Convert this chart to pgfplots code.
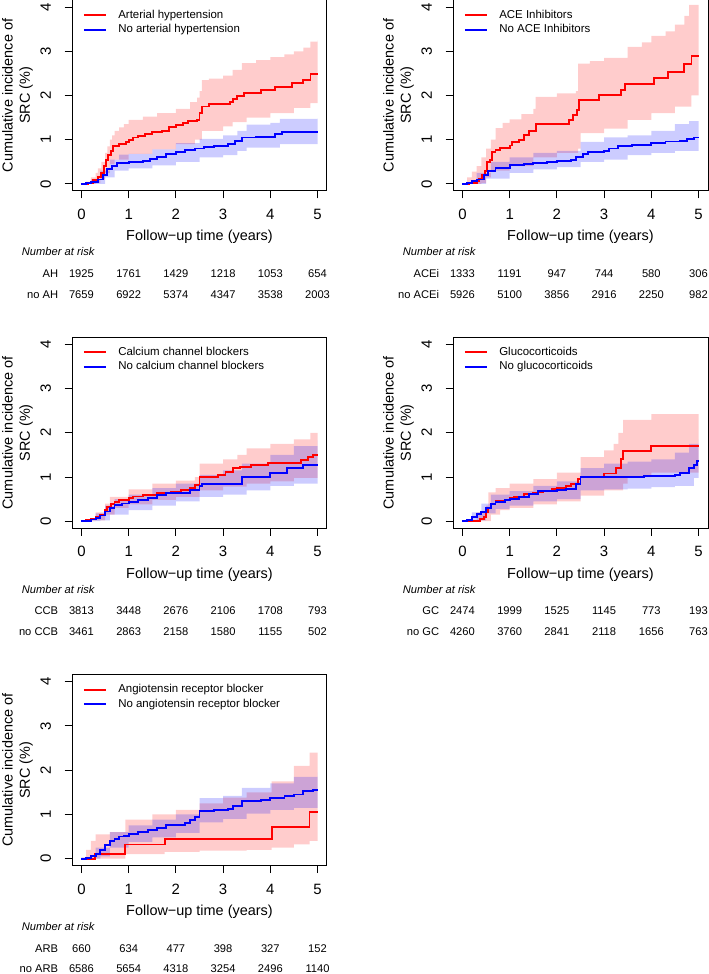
\documentclass[border=0pt]{standalone}
\usepackage{fontspec}
\setmainfont{Liberation Sans}
\usepackage{pgfplots}
\pgfplotsset{compat=1.18}
\usepgfplotslibrary{fillbetween}

\definecolor{kmred}{RGB}{255,0,0}
\definecolor{kmblue}{RGB}{0,0,255}
\newcommand{\rsk}{\fontsize{11.2}{13}\selectfont}

\pgfplotsset{
  km/.style={
    scale only axis, width=255bp, height=191bp,
    xmin=-0.2, xmax=5.2, ymin=-0.16, ymax=4.16,
    xtick={0,1,2,3,4,5}, ytick={0,1,2,3,4},
    tick pos=left, tick align=outside,
    major tick length=7.5bp,
    every tick/.style={draw=black, line width=1bp},
    axis line style={draw=black, line width=1bp},
    /pgf/number format/assume math mode=true,
    ticklabel style={font=\fontsize{15}{18}\selectfont},
    xticklabel shift=7bp, yticklabel shift=10bp,
    yticklabel style={rotate=90, anchor=south},
    xlabel={Follow−up time (years)},
    ylabel={Cumulative incidence of\\SRC (\%)},
    label style={font=\fontsize{14.5}{17.5}\selectfont},
    xlabel style={at={(rel axis cs:0.5,-0.2408)}, anchor=center},
    ylabel style={at={(rel axis cs:-0.2137,0.5)}, anchor=center, align=center},
    legend style={at={(rel axis cs:0.042,0.95)}, anchor=north west, draw=none, fill=none,
      inner sep=0pt, row sep=3.7bp, column sep=11bp, font=\fontsize{11.5}{13}\selectfont,
      nodes={inner sep=0pt, text height=8.3bp, text depth=2.5bp}},
    legend cell align=left,
    legend image code/.code={\draw[##1, line width=1.9bp] (0bp,0bp) -- (22.5bp,0bp);},
  },
  redline/.style={const plot, draw=kmred, line width=1.9bp},
  blueline/.style={const plot, draw=kmblue, line width=1.9bp},
}

% confidence band: fill colour, name prefix, upper, lower
\newcommand{\band}[4]{%
  \addplot[const plot, draw=none, forget plot, name path=#2u] coordinates {#3};
  \addplot[const plot, draw=none, forget plot, name path=#2l] coordinates {#4};
  \addplot[fill=#1, fill opacity=0.2, draw=none, forget plot] fill between[of=#2u and #2l];
}

\newcommand{\risktable}[5]{%
  \node[anchor=west, inner sep=0pt, font=\rsk\itshape] at ([xshift=-50.3bp, yshift=-61bp]#1.south west) {Number at risk};
  \node[anchor=east, inner sep=0pt, font=\rsk] at ([xshift=-13.7bp, yshift=-82.5bp]#1.south west) {#2};
  \node[anchor=east, inner sep=0pt, font=\rsk] at ([xshift=-13.7bp, yshift=-103.3bp]#1.south west) {#3};
  \foreach \v [count=\i from 0] in {#4}
    \node[inner sep=0pt, font=\rsk] at ([xshift=9.44bp+\i*47.22bp, yshift=-82.5bp]#1.south west) {\v};
  \foreach \v [count=\i from 0] in {#5}
    \node[inner sep=0pt, font=\rsk] at ([xshift=9.44bp+\i*47.22bp, yshift=-103.3bp]#1.south west) {\v};
}

\begin{document}
\begin{tikzpicture}

% ---------- arterial hypertension
\begin{axis}[km, at={(72bp,783bp)}, anchor=south west, name=p1]
\band{kmred}{r}{(0,0) (0.1,0.05) (0.2,0.15) (0.3,0.25) (0.35,0.35) (0.42,0.5) (0.5,0.7) (0.55,0.85) (0.6,1.0) (0.65,1.1) (0.7,1.2) (0.8,1.28) (0.9,1.35) (1.0,1.45) (1.3,1.52) (1.6,1.6) (2.0,1.7) (2.3,1.85) (2.45,1.95) (2.5,2.1) (2.55,2.35) (2.7,2.38) (3.0,2.45) (3.2,2.58) (3.4,2.73) (3.7,2.8) (4.0,2.87) (4.3,2.93) (4.5,3.0) (4.7,3.08) (4.85,3.22) (5.0,3.25)}
  {(0,0) (0.3,0.02) (0.4,0.1) (0.5,0.25) (0.6,0.45) (0.7,0.55) (1.0,0.68) (1.5,0.78) (2.0,0.9) (2.4,1.0) (2.55,1.2) (3.0,1.3) (3.2,1.4) (3.5,1.5) (4.0,1.6) (4.5,1.72) (4.85,1.83) (5.0,1.85)}
\band{kmblue}{b}{(0,0) (0.2,0.1) (0.4,0.3) (0.6,0.55) (0.8,0.66) (1.0,0.68) (1.5,0.78) (2.0,0.92) (2.5,1.02) (3.0,1.1) (3.3,1.2) (3.5,1.34) (4.0,1.38) (4.2,1.47) (5.0,1.48)}
  {(0,0) (0.3,0.0) (0.5,0.15) (0.7,0.3) (1.0,0.35) (1.5,0.42) (2.0,0.5) (2.5,0.6) (3.0,0.65) (3.3,0.75) (3.5,0.82) (4.2,0.9) (5.0,0.92)}
\addplot[redline] coordinates {(0,0) (0.15,0.03) (0.25,0.08) (0.35,0.15) (0.42,0.25) (0.48,0.4) (0.52,0.55) (0.57,0.65) (0.62,0.75) (0.67,0.85) (0.8,0.9) (0.95,0.95) (1.0,1.0) (1.1,1.05) (1.2,1.08) (1.35,1.12) (1.5,1.17) (1.7,1.2) (1.85,1.28) (2.0,1.33) (2.15,1.37) (2.25,1.42) (2.45,1.45) (2.5,1.6) (2.55,1.75) (2.7,1.8) (3.15,1.85) (3.2,1.92) (3.3,1.98) (3.45,2.05) (3.8,2.12) (4.1,2.2) (4.45,2.28) (4.7,2.36) (4.85,2.48) (5.0,2.48)};
\addlegendentry{Arterial hypertension}
\addplot[blueline] coordinates {(0,0) (0.1,0.02) (0.2,0.05) (0.35,0.1) (0.45,0.2) (0.55,0.33) (0.65,0.4) (0.75,0.47) (1.0,0.5) (1.3,0.52) (1.45,0.56) (1.6,0.6) (1.8,0.67) (2.0,0.72) (2.2,0.77) (2.4,0.8) (2.6,0.83) (2.8,0.86) (3.1,0.9) (3.25,0.97) (3.4,1.05) (3.7,1.07) (4.1,1.12) (4.25,1.17) (5.0,1.17)};
\addlegendentry{No arterial hypertension}
\end{axis}
\risktable{p1}{AH}{no AH}{1925,1761,1429,1218,1053,654}{7659,6922,5374,4347,3538,2003}

% ---------- ACE inhibitors
\begin{axis}[km, at={(453bp,783bp)}, anchor=south west, name=p2]
\band{kmred}{r}{(0,0.02) (0.1,0.15) (0.2,0.28) (0.3,0.4) (0.4,0.6) (0.5,0.8) (0.6,1.0) (0.7,1.26) (0.85,1.38) (1.0,1.46) (1.25,1.58) (1.5,1.7) (1.55,1.97) (2.0,2.05) (2.4,2.1) (2.45,2.72) (2.7,2.78) (3.0,2.85) (3.5,3.1) (3.8,3.2) (4.0,3.35) (4.3,3.45) (4.5,3.6) (4.7,3.8) (4.8,4.05) (5.0,4.05)}
  {(0,0) (0.4,0.02) (0.5,0.15) (0.6,0.3) (1.0,0.4) (1.5,0.6) (2.0,0.7) (2.45,0.8) (2.5,1.15) (3.0,1.25) (3.5,1.45) (4.0,1.6) (4.5,1.75) (4.85,2.0) (5.0,2.0)}
\band{kmblue}{b}{(0,0.02) (0.3,0.25) (0.6,0.5) (1.0,0.6) (1.5,0.7) (2.0,0.75) (2.5,0.95) (3.0,1.05) (3.5,1.1) (4.0,1.2) (4.5,1.35) (4.8,1.42) (5.0,1.42)}
  {(0,0) (0.5,0.12) (1.0,0.25) (1.5,0.33) (2.0,0.38) (2.5,0.5) (3.0,0.55) (3.5,0.65) (4.0,0.7) (4.5,0.75) (5.0,0.78)}
\addplot[redline] coordinates {(0,0) (0.15,0.02) (0.3,0.07) (0.35,0.12) (0.42,0.2) (0.47,0.3) (0.52,0.5) (0.58,0.55) (0.62,0.72) (0.7,0.77) (0.8,0.82) (1.0,0.87) (1.05,0.95) (1.2,1.0) (1.3,1.1) (1.4,1.2) (1.55,1.35) (2.25,1.45) (2.35,1.55) (2.42,1.68) (2.47,1.9) (2.9,2.02) (3.35,2.13) (3.45,2.26) (4.05,2.39) (4.35,2.54) (4.7,2.72) (4.85,2.9) (5.0,2.9)};
\addlegendentry{ACE Inhibitors}
\addplot[blueline] coordinates {(0,0) (0.1,0.03) (0.2,0.06) (0.3,0.1) (0.45,0.2) (0.55,0.3) (0.7,0.35) (0.9,0.37) (1.0,0.42) (1.3,0.45) (1.5,0.48) (1.8,0.5) (2.0,0.52) (2.3,0.55) (2.4,0.6) (2.55,0.68) (2.65,0.73) (3.0,0.75) (3.1,0.8) (3.3,0.85) (3.6,0.88) (4.0,0.92) (4.3,0.96) (4.6,0.98) (4.75,1.02) (4.9,1.05) (5.0,1.05)};
\addlegendentry{No ACE Inhibitors}
\end{axis}
\risktable{p2}{ACEi}{no ACEi}{1333,1191,947,744,580,306}{5926,5100,3856,2916,2250,982}

% ---------- calcium channel blockers
\begin{axis}[km, at={(72bp,445.7bp)}, anchor=south west, name=p3]
\band{kmred}{r}{(0,0.02) (0.3,0.2) (0.5,0.4) (0.6,0.55) (1.0,0.72) (1.5,0.85) (2.0,0.92) (2.4,1.0) (2.5,1.3) (3.0,1.4) (3.3,1.5) (3.5,1.65) (4.0,1.75) (4.5,1.85) (4.85,2.0) (5.0,2.0)}
  {(0,0) (0.3,0.02) (0.5,0.15) (0.7,0.3) (1.0,0.38) (1.5,0.48) (2.0,0.55) (2.5,0.7) (3.0,0.78) (3.5,0.85) (4.0,0.9) (4.5,0.98) (5.0,1.1)}
\band{kmblue}{b}{(0,0.02) (0.3,0.18) (0.5,0.35) (0.7,0.5) (1.0,0.6) (1.5,0.75) (2.0,0.85) (2.5,1.05) (3.0,1.15) (3.4,1.3) (4.0,1.5) (4.5,1.7) (5.0,1.83)}
  {(0,0) (0.4,0.02) (0.6,0.15) (1.0,0.25) (1.5,0.35) (2.0,0.45) (2.5,0.55) (3.0,0.6) (3.5,0.7) (4.0,0.8) (4.5,0.85) (5.0,0.88)}
\addplot[redline] coordinates {(0,0) (0.1,0.02) (0.2,0.05) (0.3,0.1) (0.4,0.15) (0.5,0.25) (0.55,0.33) (0.62,0.38) (0.7,0.43) (0.8,0.47) (1.0,0.52) (1.1,0.56) (1.3,0.6) (1.6,0.63) (1.9,0.67) (2.1,0.7) (2.3,0.75) (2.4,0.82) (2.5,1.0) (2.9,1.05) (3.05,1.12) (3.2,1.2) (3.35,1.22) (3.6,1.27) (3.95,1.31) (4.65,1.38) (4.8,1.45) (4.9,1.5) (5.0,1.5)};
\addlegendentry{Calcium channel blockers}
\addplot[blueline] coordinates {(0,0) (0.1,0.01) (0.2,0.04) (0.3,0.08) (0.4,0.13) (0.5,0.22) (0.6,0.3) (0.7,0.36) (0.85,0.4) (1.0,0.43) (1.2,0.47) (1.4,0.52) (1.6,0.6) (1.8,0.63) (2.3,0.7) (2.5,0.8) (2.55,0.85) (3.4,1.0) (4.0,1.09) (4.35,1.2) (4.7,1.27) (5.0,1.27)};
\addlegendentry{No calcium channel blockers}
\end{axis}
\risktable{p3}{CCB}{no CCB}{3813,3448,2676,2106,1708,793}{3461,2863,2158,1580,1155,502}

% ---------- glucocorticoids
\begin{axis}[km, at={(453bp,445.7bp)}, anchor=south west, name=p4]
\band{kmred}{r}{(0,0.02) (0.3,0.2) (0.5,0.35) (0.55,0.65) (0.7,0.75) (1.0,0.85) (1.5,0.95) (2.0,1.1) (2.5,1.45) (3.0,1.6) (3.2,1.75) (3.3,2.0) (3.4,2.29) (4.0,2.42) (5.0,2.42)}
  {(0,0) (0.5,0.0) (0.6,0.15) (0.8,0.25) (1.0,0.3) (1.5,0.38) (2.0,0.45) (2.5,0.58) (3.0,0.7) (3.4,0.85) (3.5,1.0) (4.0,1.1) (5.0,1.1)}
\band{kmblue}{b}{(0,0.02) (0.2,0.2) (0.4,0.4) (0.6,0.6) (1.0,0.68) (1.5,0.8) (2.0,0.9) (2.5,1.2) (3.0,1.3) (3.5,1.35) (4.0,1.4) (4.5,1.55) (4.8,1.75) (5.0,1.85)}
  {(0,0) (0.3,0.02) (0.5,0.18) (0.7,0.28) (1.0,0.35) (1.5,0.45) (2.0,0.5) (2.5,0.7) (3.0,0.72) (3.5,0.74) (4.0,0.77) (4.5,0.8) (4.9,0.98) (5.0,0.98)}
\addplot[redline] coordinates {(0,0) (0.38,0.05) (0.45,0.1) (0.5,0.2) (0.55,0.3) (0.6,0.38) (0.7,0.45) (0.9,0.48) (1.0,0.52) (1.1,0.55) (1.3,0.62) (1.5,0.65) (1.7,0.68) (1.9,0.72) (2.0,0.75) (2.2,0.8) (2.3,0.85) (2.45,0.95) (2.5,1.0) (3.0,1.08) (3.25,1.2) (3.35,1.4) (3.4,1.58) (4.0,1.7) (5.0,1.7)};
\addlegendentry{Glucocorticoids}
\addplot[blueline] coordinates {(0,0) (0.1,0.03) (0.2,0.1) (0.3,0.16) (0.4,0.2) (0.5,0.3) (0.6,0.38) (0.7,0.44) (0.9,0.47) (1.0,0.5) (1.2,0.55) (1.4,0.62) (1.6,0.68) (2.0,0.7) (2.2,0.72) (2.4,0.85) (2.5,0.99) (3.8,1.0) (3.85,1.03) (4.5,1.05) (4.6,1.1) (4.8,1.2) (4.9,1.28) (4.97,1.36) (5.0,1.36)};
\addlegendentry{No glucocorticoids}
\end{axis}
\risktable{p4}{GC}{no GC}{2474,1999,1525,1145,773,193}{4260,3760,2841,2118,1656,763}

% ---------- angiotensin receptor blocker
\begin{axis}[km, at={(72bp,108.3bp)}, anchor=south west, name=p5]
\band{kmred}{r}{(0,0.02) (0.1,0.2) (0.2,0.4) (0.3,0.55) (0.6,0.6) (0.93,0.88) (1.5,1.0) (2.0,1.1) (2.5,1.25) (3.0,1.38) (3.5,1.5) (4.03,1.75) (4.5,2.1) (4.83,2.4) (5.0,2.4)}
  {(0,0) (0.93,0.1) (1.76,0.15) (2.5,0.18) (3.5,0.2) (4.03,0.25) (4.5,0.32) (4.83,0.4) (5.0,0.4)}
\band{kmblue}{b}{(0,0.02) (0.3,0.25) (0.6,0.6) (1.0,0.75) (1.5,0.88) (2.0,1.0) (2.5,1.37) (3.0,1.42) (3.4,1.6) (4.0,1.7) (4.5,1.85) (5.0,1.95)}
  {(0,0) (0.4,0.05) (0.6,0.25) (1.0,0.38) (1.5,0.48) (2.0,0.58) (2.5,0.82) (3.0,0.9) (3.5,1.02) (4.0,1.1) (4.5,1.15) (5.0,1.2)}
\addplot[redline] coordinates {(0,0) (0.28,0.1) (0.93,0.32) (1.76,0.45) (4.03,0.72) (4.83,1.05) (5.0,1.05)};
\addlegendentry{Angiotensin receptor blocker}
\addplot[blueline] coordinates {(0,0) (0.1,0.02) (0.2,0.05) (0.3,0.1) (0.4,0.2) (0.5,0.3) (0.6,0.4) (0.7,0.45) (0.8,0.5) (0.9,0.52) (1.0,0.55) (1.2,0.6) (1.4,0.65) (1.6,0.7) (1.8,0.76) (2.0,0.77) (2.2,0.8) (2.3,0.87) (2.4,0.95) (2.5,1.08) (2.8,1.1) (3.1,1.12) (3.2,1.2) (3.4,1.3) (3.8,1.32) (4.0,1.38) (4.3,1.42) (4.5,1.45) (4.7,1.52) (4.9,1.55) (5.0,1.55)};
\addlegendentry{No angiotensin receptor blocker}
\end{axis}
\risktable{p5}{ARB}{no ARB}{660,634,477,398,327,152}{6586,5654,4318,3254,2496,1140}

% fix the page to the reference's frame
\pgfresetboundingbox
\useasboundingbox (0,0) rectangle (709bp,974bp);
\end{tikzpicture}
\end{document}
